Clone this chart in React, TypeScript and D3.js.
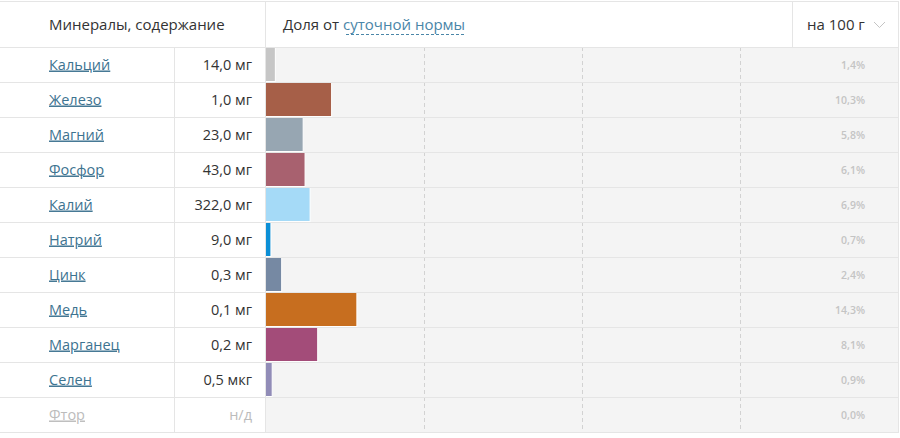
import React from "react";
import * as d3 from "d3";

const names = ["Кальций", "Железо", "Магний", "Фосфор", "Калий", "Натрий", "Цинк", "Медь", "Марганец", "Селен", "Фтор"];
const amounts = ["14,0 мг", "1,0 мг", "23,0 мг", "43,0 мг", "322,0 мг", "9,0 мг", "0,3 мг", "0,1 мг", "0,2 мг", "0,5 мкг", "н/д"];
const percents = [1.4, 10.3, 5.8, 6.1, 6.9, 0.7, 2.4, 14.3, 8.1, 0.9, 0.0];
const colors = ["#c6c6c6", "#a65f48", "#97a6b2", "#a8616f", "#a5daf7", "#0c8fd6", "#7689a3", "#c76e1f", "#a34c79", "#918cb7", "#cccccc"];
const available = [true, true, true, true, true, true, true, true, true, true, false];
const gridTicks = [25, 50, 75];

const W = 900;
const H = 438;
const FONT = "'Open Sans', 'Noto Sans', sans-serif";

export default function App() {
  const top = 1;
  const headerBottom = 47;
  const rowsBottom = 432;
  const colName = 174;
  const colBar = 266;
  const right = 898;
  const headDiv = 792;

  const x = d3.scaleLinear().domain([0, 100]).range([colBar, right]);
  const y = d3.scaleBand<number>().domain(d3.range(names.length)).range([headerBottom, rowsBottom]).padding(0);
  const bh = y.bandwidth();

  return (
    <svg width={W} height={H} style={{ position: "absolute", left: 0, top: 0, display: "block" }} fontFamily={FONT}>
      <rect x={0} y={0} width={W} height={H} fill="#fff" />
      <rect x={colBar} y={headerBottom} width={right - colBar} height={rowsBottom - headerBottom} fill="#f4f4f4" />
      {gridTicks.map((t) => (
        <line key={t} x1={Math.round(x(t)) + 0.5} x2={Math.round(x(t)) + 0.5} y1={headerBottom} y2={rowsBottom} stroke="#d2d2d2" strokeDasharray="4,3" />
      ))}
      {percents.map((p, i) =>
        p > 0 ? (
          <rect key={i} x={colBar - 0.5} y={(y(i) as number) + 0.5} width={x(p) - colBar + 1} height={bh - 1} fill={colors[i]} stroke="#fff" strokeWidth={1} />
        ) : null
      )}
      {[top, headerBottom, ...d3.range(1, names.length).map((i) => y(i) as number), rowsBottom].map((yy, k) => (
        <line key={"h" + k} x1={0} x2={right} y1={yy + 0.5} y2={yy + 0.5} stroke="#e5e5e5" />
      ))}
      <line x1={colName + 0.5} x2={colName + 0.5} y1={headerBottom} y2={rowsBottom} stroke="#e5e5e5" />
      <line x1={colBar - 0.5} x2={colBar - 0.5} y1={top} y2={rowsBottom} stroke="#e5e5e5" />
      <line x1={headDiv + 0.5} x2={headDiv + 0.5} y1={top} y2={headerBottom} stroke="#e5e5e5" />
      <line x1={right + 0.5} x2={right + 0.5} y1={top} y2={rowsBottom + 1} stroke="#e5e5e5" />

      <text x={49} y={30} fontSize={15} fill="#333">Минералы, содержание</text>
      <text x={283} y={30} fontSize={15} fill="#333">
        Доля от <tspan fill="#4a86a8">суточной нормы</tspan>
      </text>
      <line x1={346} x2={466} y1={34.5} y2={34.5} stroke="#4a86a8" strokeDasharray="3,2" />
      <text x={807} y={30} fontSize={15} fill="#333">на 100 г</text>
      <path d="M874,22 L879.5,27.5 L885,22" fill="none" stroke="#c4c4c4" strokeWidth={1} />

      {names.map((n, i) => {
        const cy = (y(i) as number) + bh / 2;
        return (
          <g key={n}>
            <text x={49} y={cy + 5} fontSize={14.5} fill={available[i] ? "#3d7390" : "#bcbcbc"} textDecoration="underline">{n}</text>
            <text x={252} y={cy + 5} fontSize={14.5} fill={available[i] ? "#333" : "#bcbcbc"} textAnchor="end">{amounts[i]}</text>
            <text x={865} y={cy + 4} fontSize={10.5} fontWeight={600} fill="#c4c4c4" textAnchor="end">{d3.format(".1f")(percents[i]).replace(".", ",")}%</text>
          </g>
        );
      })}
    </svg>
  );
}
